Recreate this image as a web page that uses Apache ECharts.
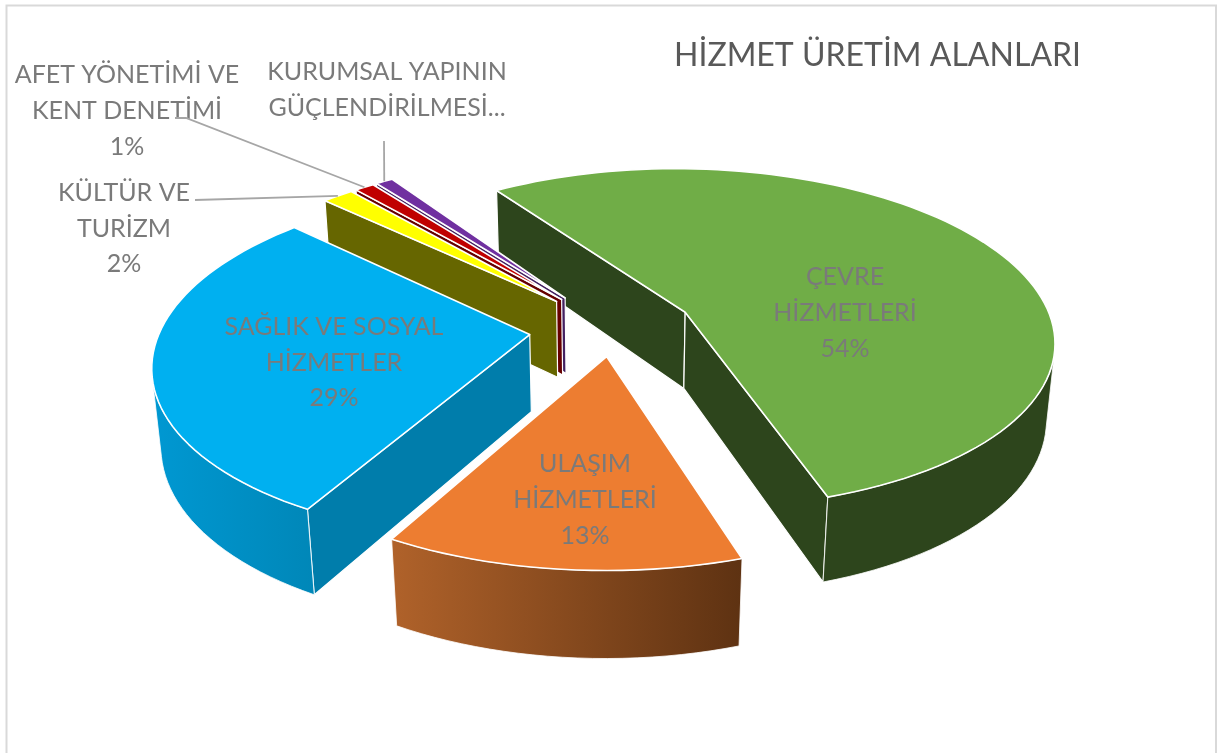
<!DOCTYPE html>
<html>
<head>
<meta charset="utf-8">
<style>
html,body{margin:0;background:#fff}
#main{width:1217px;height:753px}
</style>
<script src="https://cdn.jsdelivr.net/npm/echarts@6/dist/echarts.min.js"></script>
</head>
<body>
<div id="main"></div>
<script>
var titleText = 'HİZMET ÜRETİM ALANLARI';
var categories = ['ÇEVRE\nHİZMETLERİ', 'ULAŞIM\nHİZMETLERİ', 'SAĞLIK VE SOSYAL\nHİZMETLER', 'KÜLTÜR VE\nTURİZM', 'AFET YÖNETİMİ VE\nKENT DENETİMİ', 'KURUMSAL YAPININ\nGÜÇLENDİRİLMESİ...'];
var values = [54.4, 13.0, 28.9, 1.6, 1.0, 0.9];
var explode = [0.222, 0.161, 0.226, 0.225, 0.225, 0.227];

var topColors = ['#70ad47', '#ed7d31', '#00b0f0', '#ffff00', '#c00000', '#7030a0'];
var sideColors = ['#2d451c', '#8a4a20', '#007dab', '#666600', '#660000', '#432060'];
var rimColors = [['#2d451c', '#2d451c'], ['#b0622a', '#5e3212'], ['#0098d2', '#0087b8'], ['#666600', '#666600'], ['#660000', '#660000'], ['#432060', '#432060']];

// the last purple slice has no percent in its label, so labels carry their own spot
var labelSpots = [[845, 313], [585, 500], [334, 362.5], [124, 228.5], [127, 111], [387, 90]];
var labelHasPercent = [true, true, true, true, true, false];
var leaderEnds = [null, null, null, [[195, 200]], [[186, 118], [175, 118]], [[384, 141]]];

// camera of the tilted pie
var cam = { cx: 612.6, cy: 328.6, scale: 369, tilt: 0.481, dist: 5.675, depth: 0.24, start: -34.03 };

var total = values.reduce(function (a, b) { return a + b; }, 0);
var slices = [];
var ang = cam.start;
values.forEach(function (v, i) {
  var sw = v / total * 360;
  var mid = (ang + sw / 2) * Math.PI / 180;
  slices.push({ s: ang, e: ang + sw, mid: ang + sw / 2, ox: explode[i] * Math.sin(mid), oy: -explode[i] * Math.cos(mid) });
  ang += sw;
});

function project(x, y, z) {
  var yv = y * Math.sin(cam.tilt) - z * Math.cos(cam.tilt);
  var d = 1 - (y * Math.cos(cam.tilt) + z * Math.sin(cam.tilt)) / cam.dist;
  return [cam.cx + cam.scale * x / d, cam.cy + cam.scale * yv / d];
}
function rimPoint(sl, deg, z) {
  var r = deg * Math.PI / 180;
  return project(sl.ox + Math.sin(r), sl.oy - Math.cos(r), z);
}
function apexPoint(sl, z) {
  return project(sl.ox, sl.oy, z);
}
function area(pts) {
  var a = 0;
  pts.forEach(function (p, i) {
    var q = pts[(i + 1) % pts.length];
    a += p[0] * q[1] - q[0] * p[1];
  });
  return a;
}
function face(pts, fill, w) {
  return { type: 'polygon', shape: { points: pts }, style: { fill: fill, stroke: '#fff', lineWidth: w, lineJoin: 'round' } };
}

function renderSlice(params, api) {
  var i = api.value(0);
  var sl = slices[i];
  var bottom = -cam.depth;
  var kids = [];
  var n = Math.max(4, Math.ceil((sl.e - sl.s) / 2));

  var wallS = [apexPoint(sl, 0), rimPoint(sl, sl.s, 0), rimPoint(sl, sl.s, bottom), apexPoint(sl, bottom)];
  var wallE = [rimPoint(sl, sl.e, 0), apexPoint(sl, 0), apexPoint(sl, bottom), rimPoint(sl, sl.e, bottom)];
  if (area(wallS) < 0) kids.push(face(wallS, sideColors[i], 1.2));
  if (area(wallE) < 0) kids.push(face(wallE, sideColors[i], 1.2));

  // outer wall, only the stretch that faces the viewer
  var run = [];
  for (var k = 0; k < n; k++) {
    var a = sl.s + (sl.e - sl.s) * k / n;
    var b = sl.s + (sl.e - sl.s) * (k + 1) / n;
    var strip = [rimPoint(sl, a, 0), rimPoint(sl, b, 0), rimPoint(sl, b, bottom), rimPoint(sl, a, bottom)];
    if (area(strip) < 0) run.push([a, b]);
  }
  if (run.length) {
    var tops = [], bots = [];
    run.forEach(function (r, j) {
      if (j === 0) { tops.push(rimPoint(sl, r[0], 0)); bots.push(rimPoint(sl, r[0], bottom)); }
      tops.push(rimPoint(sl, r[1], 0));
      bots.push(rimPoint(sl, r[1], bottom));
    });
    var outline = tops.concat(bots.reverse());
    var xs = outline.map(function (p) { return p[0]; });
    var grad = new echarts.graphic.LinearGradient(Math.min.apply(null, xs), 0, Math.max.apply(null, xs), 0, [
      { offset: 0, color: rimColors[i][0] },
      { offset: 1, color: rimColors[i][1] }
    ], true);
    kids.push(face(outline, grad, 0.8));
  }

  var top = [apexPoint(sl, 0)];
  for (var t = 0; t <= n; t++) top.push(rimPoint(sl, sl.s + (sl.e - sl.s) * t / n, 0));
  kids.push(face(top, topColors[i], 1.6));
  return { type: 'group', children: kids };
}

var graphics = [{
  type: 'rect', shape: { x: 6.5, y: 5.5, width: 1209.5, height: 770 }, silent: true, z: 0,
  style: { fill: 'none', stroke: '#d9d9d9', lineWidth: 2 }
}];
categories.forEach(function (name, i) {
  var txt = labelHasPercent[i] ? name + '\n' + Math.round(values[i]) + '%' : name;
  graphics.push({
    type: 'text', x: labelSpots[i][0], y: labelSpots[i][1], z: 20,
    style: { text: txt, fill: '#7a7a7a', font: '25px Lato', lineHeight: 35.7, align: 'center', verticalAlign: 'middle' }
  });
  if (leaderEnds[i]) {
    var start = rimPoint(slices[i], slices[i].mid, 0);
    graphics.push({
      type: 'polyline', z: 20, silent: true,
      shape: { points: [start].concat(leaderEnds[i]) },
      style: { fill: 'none', stroke: '#a6a6a6', lineWidth: 1.8 }
    });
  }
});

// back to front
var drawOrder = [0, 5, 4, 3, 2, 1];

var chart = echarts.init(document.getElementById('main'));
chart.setOption({
  animation: false,
  title: { text: titleText, left: 669, top: 35, textStyle: { fontFamily: 'Lato', fontSize: 32, fontWeight: 'normal', color: '#595959' } },
  graphic: graphics,
  series: [{
    type: 'custom',
    coordinateSystem: 'none',
    renderItem: renderSlice,
    data: drawOrder.map(function (i) { return [i, values[i]]; })
  }]
});
</script>
</body>
</html>
